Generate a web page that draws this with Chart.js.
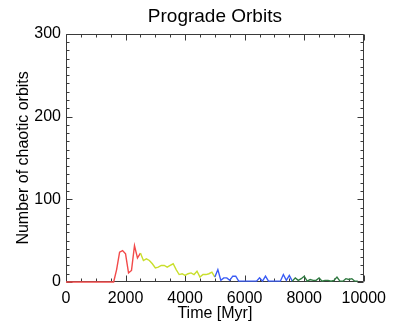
<!DOCTYPE html>
<html><head><meta charset="utf-8">
<script src="https://cdn.jsdelivr.net/npm/chart.js@4/dist/chart.umd.min.js"></script>
<style>html,body{margin:0;padding:0;background:#fff}#wrap{width:393px;height:328px}</style>
</head><body><div id="wrap"><canvas id="c" width="393" height="328"></canvas></div>
<script>
const times = [0,100,200,300,400,500,600,700,800,900,1000,1100,1200,1300,1400,1500,1600,1700,1800,1900,
2000,2100,2200,2300,2400,2500,2600,2700,2800,2900,3000,3100,3200,3300,3400,3500,3600,3700,3800,3900,
4000,4100,4200,4300,4400,4500,4600,4700,4800,4900,5000,5100,5200,5300,5400,5500,5600,5700,5800,5900,
6000,6100,6200,6300,6400,6500,6600,6700,6800,6900,7000,7100,7200,7300,7400,7500,7600,7700,7800,7900,
8000,8100,8200,8300,8400,8500,8600,8700,8800,8900,9000,9100,9200,9300,9400,9500,9600,9700,9800];
const chaotic = [0,0,0,0,0,0,0,0,0,0,0,0,0,0,0,0,0,15,36,38,
34,11,14,44,29,35,26,28,26,22,17,18,20,20,18,20,22,15,9,10,
8,10,11,9,13,6,9,9,10,12,6,15,2,5,5,2,7,7,1,1,
1,1,1,1,1,5,1,7,1,1,1,1,1,9,2,8,1,5,2,4,
7,1,3,2,2,5,1,2,2,1,2,6,1,1,4,3,4,1,1];
const phaseStarts = [0, 2500, 5000, 7600];
const phaseColors = ['#f24a4a', '#c9df2c', '#3a5cf5', '#2f7a40'];
const xTickLabels = [0, 2000, 4000, 6000, 8000, 10000];
const yTickLabels = [0, 100, 200, 300];
const xMinorStep = 500, yMinorStep = 10;

const FONT = "'Liberation Sans', Arial, Helvetica, sans-serif";

function phaseColor(t){
  let c = phaseColors[0];
  for (let i = 0; i < phaseStarts.length; i++) if (t >= phaseStarts[i]) c = phaseColors[i];
  return c;
}

const frameTicks = {
  id: 'frameTicks',
  beforeDatasetsDraw(chart){
    const {ctx, chartArea: a, scales: {x, y}} = chart;
    ctx.save();
    ctx.strokeStyle = '#3a3a3a';
    ctx.lineWidth = 1;
    const L = Math.round(a.left) + 0.5, R = Math.round(a.right) - 0.5;
    const T = Math.round(a.top) + 0.5, B = Math.round(a.bottom) - 0.5;
    ctx.beginPath();
    ctx.rect(L, T, R - L, B - T);
    ctx.stroke();
    ctx.beginPath();
    for (let v = x.min; v <= x.max + 1e-6; v += xMinorStep) {
      const px = Math.round(x.getPixelForValue(v)) + 0.5;
      const len = xTickLabels.includes(v) ? 6 : 3;
      ctx.moveTo(px, B); ctx.lineTo(px, B - len);
      ctx.moveTo(px, T); ctx.lineTo(px, T + len);
    }
    for (let v = y.min; v <= y.max + 1e-6; v += yMinorStep) {
      const py = Math.round(y.getPixelForValue(v)) + 0.5;
      const len = yTickLabels.includes(v) ? 6 : 3;
      ctx.moveTo(L, py); ctx.lineTo(L + len, py);
      ctx.moveTo(R, py); ctx.lineTo(R - len, py);
    }
    ctx.stroke();
    ctx.restore();
  }
};

new Chart(document.getElementById('c'), {
  type: 'line',
  data: {
    datasets: [{
      data: times.map((t, i) => ({x: t, y: chaotic[i]})),
      borderWidth: 1.4,
      pointRadius: 0,
      tension: 0,
      clip: 3,
      borderColor: phaseColors[0],
      segment: { borderColor: ctx => phaseColor(ctx.p0.parsed.x) }
    }]
  },
  options: {
    responsive: false,
    devicePixelRatio: 1,
    animation: false,
    layout: { padding: { left: 0, right: 25, top: 0, bottom: 0 } },
    plugins: {
      legend: { display: false },
      tooltip: { enabled: false },
      title: {
        display: true, fullSize: false,
        text: 'Prograde Orbits',
        color: '#000',
        font: { family: FONT, size: 19, weight: 'normal', lineHeight: 1.2 },
        padding: { top: 5, bottom: 6 }
      }
    },
    scales: {
      x: {
        type: 'linear', min: 0, max: 10000,
        afterFit: s => { s.height = 46; },
        afterBuildTicks: s => { s.ticks = xTickLabels.map(v => ({value: v})); },
        grid: { display: false, drawTicks: false },
        border: { display: false },
        ticks: { color: '#000', padding: 7, maxRotation: 0, autoSkip: false,
                 callback: v => String(v),
                 font: { family: FONT, size: 16 } },
        title: { display: true, text: 'Time [Myr]', color: '#000',
                 font: { family: FONT, size: 16, lineHeight: 1.2 }, padding: { top: 0, bottom: 5 } }
      },
      y: {
        type: 'linear', min: 0, max: 300,
        afterFit: s => { s.width = 66; },
        afterBuildTicks: s => { s.ticks = yTickLabels.map(v => ({value: v})); },
        grid: { display: false, drawTicks: false },
        border: { display: false },
        ticks: { color: '#000', padding: 5, autoSkip: false,
                 callback: v => String(v),
                 font: { family: FONT, size: 16 } },
        title: { display: true, text: 'Number of chaotic orbits', color: '#000',
                 font: { family: FONT, size: 16, lineHeight: 1.2 }, padding: { top: 14, bottom: 0 } }
      }
    }
  },
  plugins: [frameTicks]
});
</script>
</body></html>
